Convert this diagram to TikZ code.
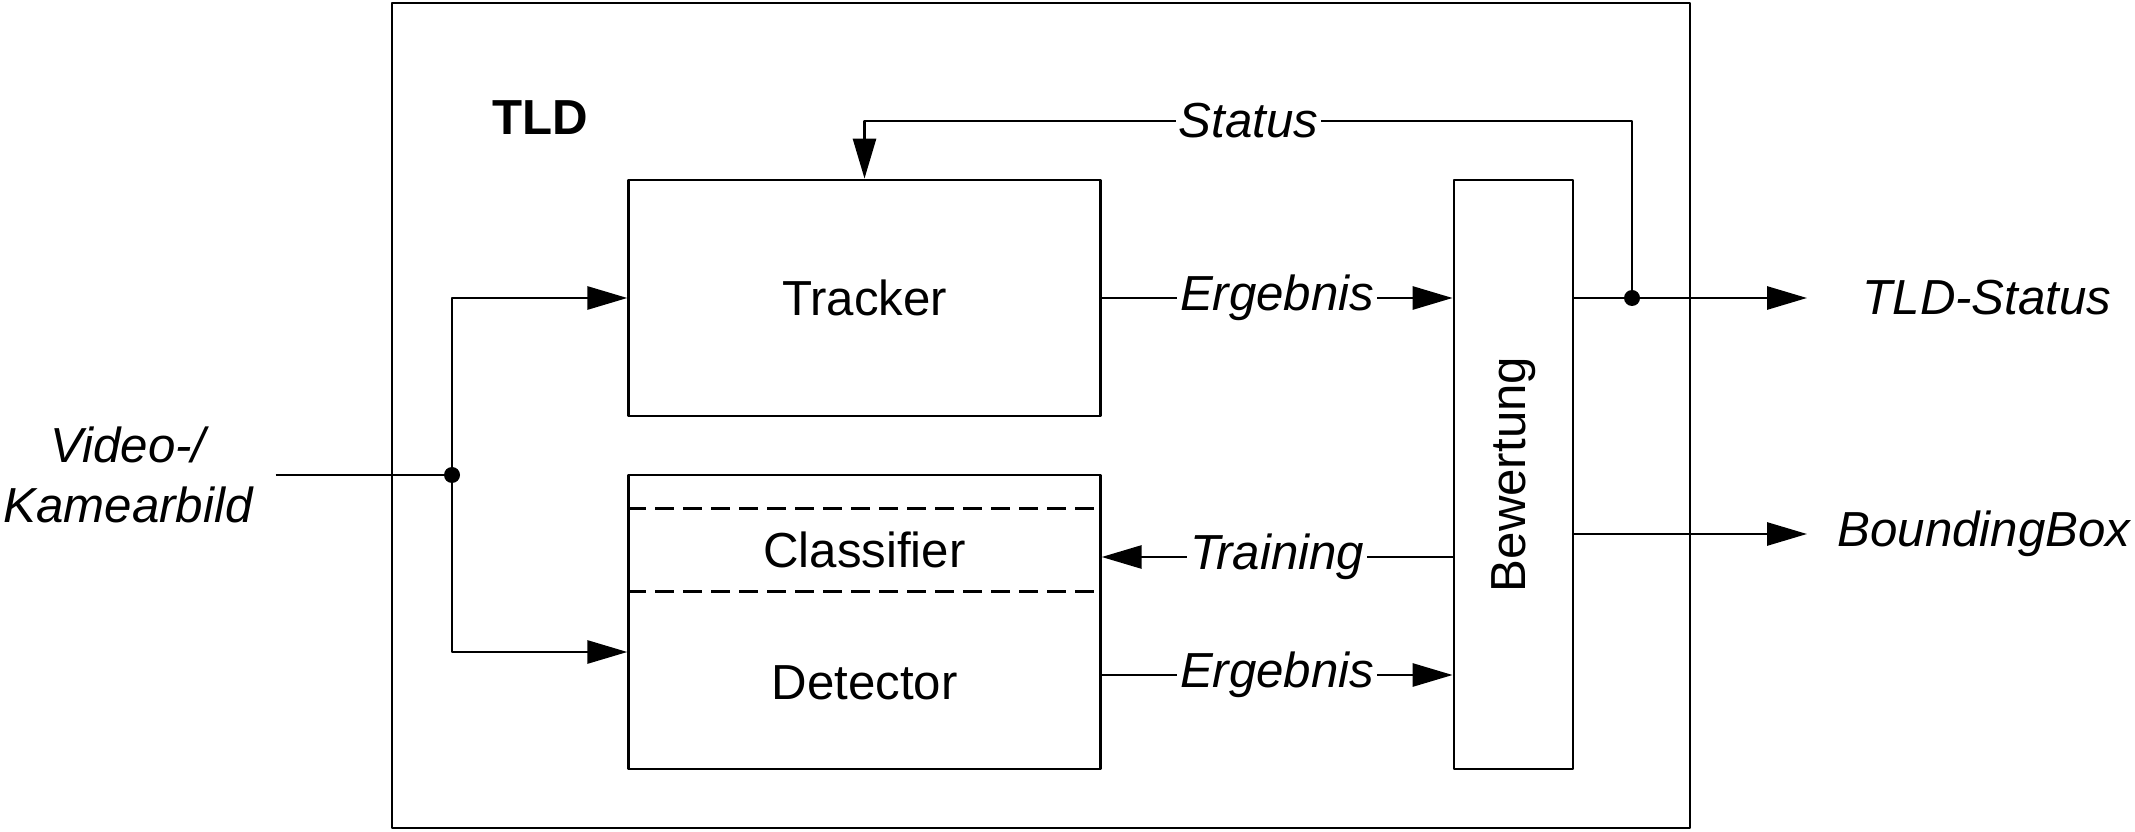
\documentclass[tikz,border=0pt]{standalone}
\usepackage{fontspec}
\setmainfont{Liberation Sans}
\usetikzlibrary{arrows.meta}
\newcommand{\bigfont}{\fontsize{28}{34}\selectfont}
\tikzset{
  every picture/.style={line join=round, >={Triangle[length=0.8cm,width=0.46cm]}},
  blk/.style={draw, minimum width=9.43cm},
  lbl/.style={font=\bigfont\itshape},
  onwire/.style={lbl, fill=white, inner sep=1.5pt},
}

\begin{document}
\begin{tikzpicture}[line width=1.6pt, font=\bigfont]
\useasboundingbox (0,0) rectangle (42.7,-16.64);
\draw(7.84,-0.06) rectangle (33.8,-16.56);
\node (tld) at (10.8,-2.36) {\bfseries TLD};
\node[blk, minimum height=4.72cm] (trk) at (17.29,-5.96) {Tracker};
\node[blk, minimum height=5.88cm] (det) at (17.29,-12.44) {};
\draw[dash pattern=on 0.38cm off 0.18cm]
([yshift=-0.7cm]det.north west)--([yshift=-0.7cm]det.north east)
([yshift=-2.36cm]det.north west)--([yshift=-2.36cm]det.north east);
\node (cls) at ([yshift=-1.53cm]det.north) {Classifier};
\node (dtc) at ([yshift=1.76cm]det.south) {Detector};
\node[draw, minimum width=2.38cm, minimum height=11.78cm] (bew) at (30.27,-9.49) {};
\node[rotate=90] (bewtxt) at (bew.center) {Bewertung};
\node[lbl, align=center] (vid) at (2.56,-9.5) {Video-/\\Kamearbild};
\coordinate (split) at (9.04,-9.5);
\coordinate (junc) at (32.64,-5.96);
\coordinate (stend) at (36.14,-5.96);
\coordinate (bbend) at (36.14,-10.68);
\coordinate (detout) at ([yshift=-1.06cm]det.east);
\coordinate (trn) at ([yshift=-1.65cm]bew.west);
\draw[shorten <=0.32cm](vid.east)--(split);
\draw[->](split)|-(trk.west);
\draw[->](split)|-([yshift=-0.6cm]det.west);
\draw[->](trk.east)--node[onwire]{Ergebnis}(trk.east -| bew.west);
\draw[->](detout)--node[onwire]{Ergebnis}(detout -| bew.west);
\draw[->](trn)--node[onwire]{Training}(trn -| det.east);
\draw[->](bew.east |- stend)--(stend);
\draw[->](bew.east |- bbend)--(bbend);
\draw[->](junc)--(junc |- 0,-2.42)--node[onwire]{Status}(trk.north |- 0,-2.42)--(trk.north);
\fill(split) circle (0.16);
\fill(junc) circle (0.16);
\node[lbl] (tldst) at (39.74,-5.96) {TLD-Status};
\node[lbl] (bbox) at (39.68,-10.68) {BoundingBox};
\end{tikzpicture}
\end{document}
